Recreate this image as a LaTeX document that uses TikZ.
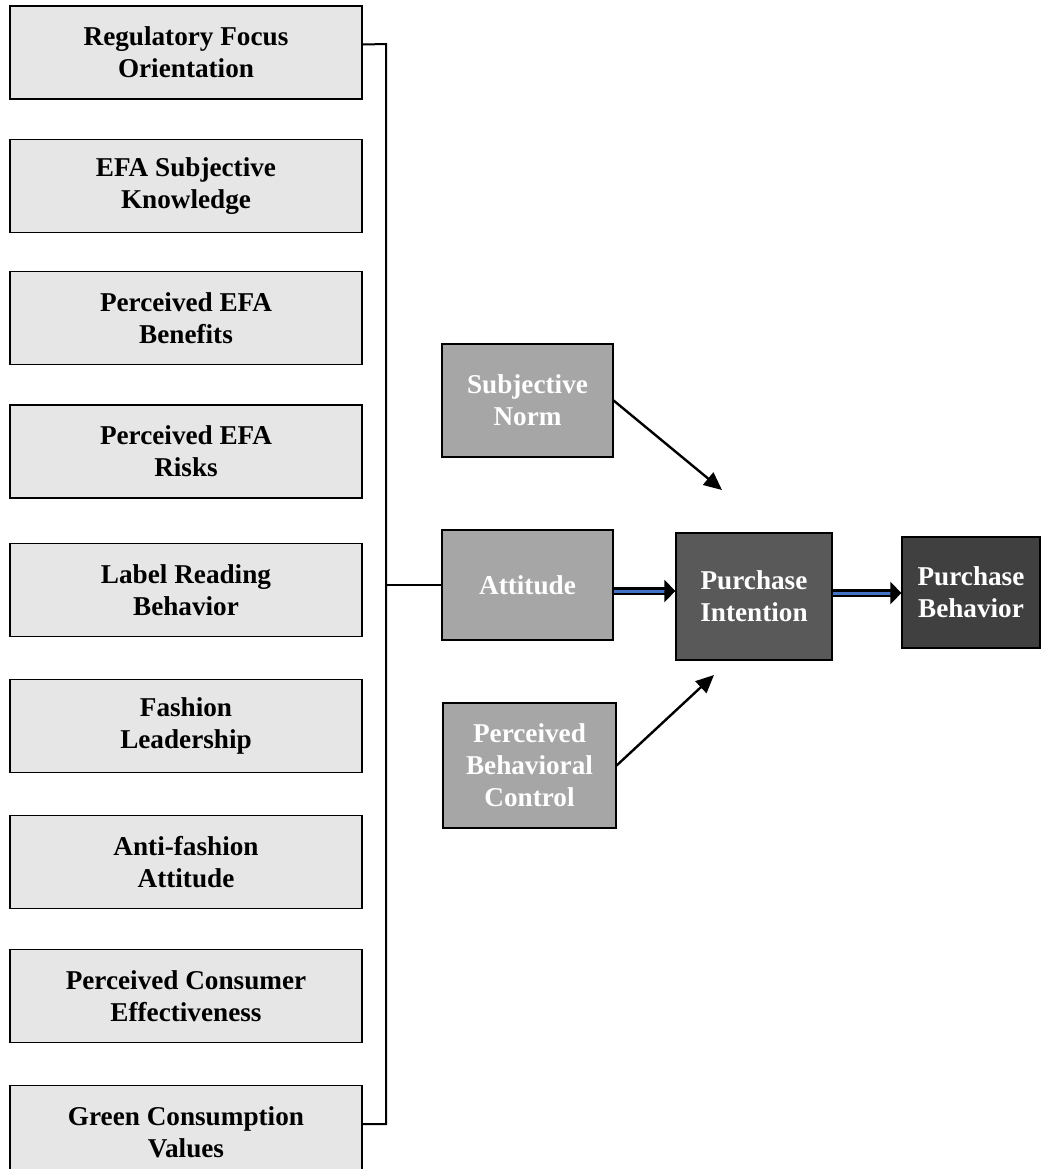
\documentclass[tikz,border=0pt]{standalone}
\usepackage{fontspec}
\setmainfont{Liberation Serif}
\usepackage{tikz}
\usetikzlibrary{arrows.meta,positioning}

\definecolor{lightbox}{HTML}{E6E6E6}
\definecolor{midbox}{HTML}{A6A6A6}
\definecolor{darkbox}{HTML}{595959}
\definecolor{darkerbox}{HTML}{404040}
\definecolor{arrowblue}{HTML}{4472C4}

\begin{document}
\begin{tikzpicture}[x=0.5pt,y=-0.5pt,
				factor/.style={draw, fill=lightbox, line width=0.8pt, minimum width=176pt, minimum height=46.5pt, align=center, font=\fontsize{13.6}{16}\selectfont\bfseries, inner sep=0pt},
				tpb/.style={draw, fill=midbox, text=white, line width=0.6pt, align=center, font=\fontsize{13.6}{16}\selectfont\bfseries, inner sep=0pt},
				link/.style={line width=1pt},
				thin arrow/.style={line width=1.2pt, -{Triangle[length=9pt,width=8pt]}},
				fat arrow/.style={line width=1.1pt, double=arrowblue, double distance=1.5pt, -{Triangle[length=5.5pt,width=11pt]}}]
				\useasboundingbox (0,0) rectangle (1048,1169);
				\begin{scope}
				\clip (0,0) rectangle (1048,1169);
				% left column of antecedents
				\node[factor] (f1) at (186,52.5)  {Regulatory Focus\\Orientation};
				\node[factor] (f2) at (186,186)   {EFA Subjective\\Knowledge};
				\node[factor] (f3) at (186,318)   {Perceived EFA\\Benefits};
				\node[factor] (f4) at (186,451.5) {Perceived EFA\\Risks};
				\node[factor] (f5) at (186,590)   {Label Reading\\Behavior};
				\node[factor] (f6) at (186,726)   {Fashion\\Leadership};
				\node[factor] (f7) at (186,862)   {Anti-fashion\\Attitude};
				\node[factor] (f8) at (186,996)   {Perceived Consumer\\Effectiveness};
				\node[factor] (f9) at (186,1132)  {Green Consumption\\Values};
				\end{scope}
				% TPB constructs
				\node[tpb, minimum width=85.5pt, minimum height=56.5pt] (sn)  at (527.5,400.5) {Subjective\\Norm};
				\node[tpb, minimum width=85.5pt, minimum height=55pt]   (att) at (527.5,585)   {Attitude};
				\node[tpb, minimum width=86.5pt, minimum height=62.5pt] (pbc) at (529.5,765.5) {Perceived\\Behavioral\\Control};
				\node[tpb, fill=darkbox, minimum width=78pt, minimum height=63.5pt] (pi) at (754,596.5) {Purchase\\Intention};
				\node[tpb, fill=darkerbox, minimum width=69pt, minimum height=55.5pt] (pb) at (971,592.5) {Purchase\\Behavior};
				% bracket
				\coordinate (bustop) at (386,44);
				\coordinate (busbot) at (386,1124);
				\draw[link] ([yshift=4pt]f1.east) -- (bustop) -- (busbot) -- ([yshift=4pt]f9.east);
				\draw[link] (bustop |- att.west) -- (att.west);
				% arrows
				\coordinate (snend) at (722,490);
				\coordinate (pbcend) at (714,675);
				\coordinate (attout) at ([yshift=-3pt]att.east);
				\coordinate (piout) at ([yshift=1.75pt]pi.east);
				\draw[thin arrow] (sn.east) -- (snend);
				\draw[thin arrow] (pbc.east) -- (pbcend);
				\draw[fat arrow] (attout) -- (attout -| pi.west);
				\draw[fat arrow] (piout) -- (piout -| pb.west);
			\end{tikzpicture}
\end{document}
